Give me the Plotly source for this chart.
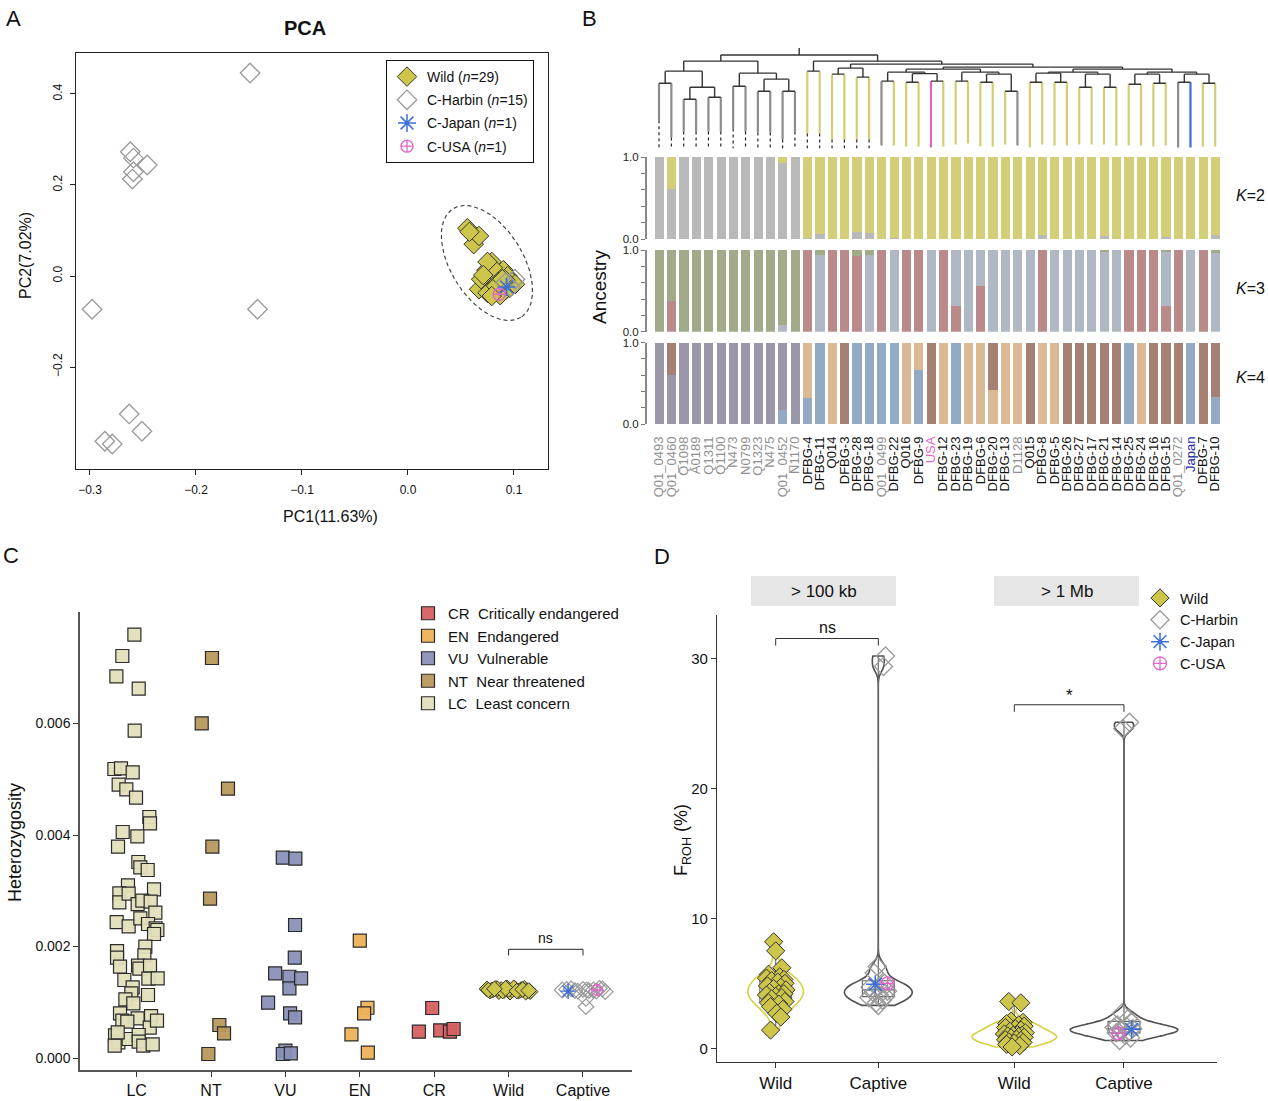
import numpy as np
import plotly.graph_objects as go

W, H = 1268, 1101
FONT = "Liberation Sans, Arial, sans-serif"


def fx(p):
    return p / W


def fy(p):
    return 1 - p / H


# ======================= Panel A : PCA =======================
wild_pc1 = [0.056, 0.062, 0.067, 0.079, 0.074, 0.084, 0.077, 0.090, 0.094, 0.098, 0.072, 0.067, 0.082, 0.088,
            0.075, 0.092, 0.085, 0.080, 0.069, 0.087, 0.096, 0.101, 0.075, 0.083, 0.079, 0.092, 0.071, 0.058, 0.089]
wild_pc2 = [0.105, 0.070, 0.088, 0.031, 0.013, 0.004, -0.007, 0.013, 0.000, -0.013, -0.020, -0.029, -0.033, -0.022,
            -0.037, -0.031, -0.013, 0.018, -0.007, -0.042, -0.026, -0.018, 0.031, -0.022, -0.044, -0.009, 0.002,
            0.097, -0.007]
harbin_pc1 = [-0.149, -0.262, -0.259, -0.246, -0.259, -0.260, -0.298, -0.142, -0.263, -0.251, -0.286, -0.279,
              0.092, 0.097, 0.101]
harbin_pc2 = [0.446, 0.273, 0.259, 0.244, 0.229, 0.213, -0.073, -0.073, -0.303, -0.341, -0.363, -0.369,
              -0.015, -0.024, -0.007]
japan_pc1, japan_pc2 = [0.093], [-0.024]
usa_pc1, usa_pc2 = [0.086], [-0.040]

# dashed ellipse: centre and two conjugate semi-diameters (data units)
ELL_C = (0.0745, 0.0286)
ELL_U = (0.0320, -0.1193)
ELL_V = (-0.0288, -0.0419)

# ======================= Panel B : dendrogram + ADMIXTURE =======================
samples = ["Q01_0493", "Q01_0460", "Q1098", "A0189", "Q1311", "Q1100", "N473", "N0799", "Q1323", "N475",
           "Q01_0452", "N1170", "DFBG-4", "DFBG-11", "Q014", "DFBG-3", "DFBG-28", "DFBG-18", "Q01_0499",
           "DFBG-22", "Q016", "DFBG-9", "USA", "DFBG-12", "DFBG-23", "DFBG-19", "DFBG-6", "DFBG-20", "DFBG-13",
           "D1128", "Q015", "DFBG-8", "DFBG-5", "DFBG-26", "DFBG-27", "DFBG-17", "DFBG-21", "DFBG-14", "DFBG-25",
           "DFBG-24", "DFBG-16", "DFBG-15", "Q01_0272", "Japan", "DFBG-7", "DFBG-10"]
groups = ["H"] * 12 + ["W"] * 6 + ["H", "W", "W", "W", "U", "W", "W", "W", "W", "W", "W", "H"] + \
         ["W"] * 12 + ["H", "J", "W", "W"]

k2_grey = [1, 0.61, 1, 1, 1, 1, 1, 1, 1, 1, 0.93, 1,
           0.01, 0.06, 0, 0, 0.09, 0.07, 0, 0.01, 0, 0, 0, 0, 0, 0, 0, 0, 0, 0, 0,
           0.05, 0, 0, 0, 0, 0.04, 0, 0, 0, 0, 0.02, 0, 0, 0, 0.05]
k2_yellow = [0, 0.39, 0, 0, 0, 0, 0, 0, 0, 0, 0.07, 0,
             0.99, 0.94, 1, 1, 0.91, 0.93, 1, 0.99, 1, 1, 1, 1, 1, 1, 1, 1, 1, 1, 1,
             0.95, 1, 1, 1, 1, 0.96, 1, 1, 1, 1, 0.98, 1, 1, 1, 0.95]

k3_red = [0, 0.375, 0, 0, 0, 0, 0, 0, 0, 0, 0, 0,
          1, 0, 1, 1, 0.93, 0, 1, 0, 1, 1, 0, 1, 0.31, 0, 0.56, 0, 0, 0, 0,
          1, 0, 0, 0, 0, 0, 0, 1, 1, 1, 0.31, 1, 0, 1, 0]
k3_bluegrey = [0, 0, 0, 0, 0, 0, 0, 0, 0, 0, 0.08, 0,
               0, 0.94, 0, 0, 0, 0.94, 0, 1, 0, 0, 1, 0, 0.69, 1, 0.44, 1, 1, 1, 1,
               0, 1, 1, 1, 1, 0.98, 1, 0, 0, 0, 0.67, 0, 1, 0, 0.96]
k3_green = [1, 0.625, 1, 1, 1, 1, 1, 1, 1, 1, 0.92, 1,
            0, 0.06, 0, 0, 0.07, 0.06, 0, 0, 0, 0, 0, 0, 0, 0, 0, 0, 0, 0, 0,
            0, 0, 0, 0, 0, 0.02, 0, 0, 0, 0, 0.02, 0, 0, 0, 0.04]

k4_blue = [0, 0, 0, 0, 0, 0, 0, 0, 0, 0, 0.17, 0,
           0.32, 1, 0, 0, 1, 1, 1, 1, 0, 0.67, 0, 0, 1, 0, 0, 0, 0, 0, 0,
           0, 0, 0, 0, 0, 0, 0, 1, 0, 0, 0, 0, 1, 0, 0.33]
k4_tan = [0, 0, 0, 0, 0, 0, 0, 0, 0, 0, 0, 0,
          0.68, 0, 1, 0, 0, 0, 0, 0, 1, 0.33, 0, 1, 0, 1, 1, 0.42, 1, 1, 0,
          1, 1, 0, 0, 0, 0, 0, 0, 1, 0, 0, 0, 0, 0, 0]
k4_purple = [1, 0.61, 1, 1, 1, 1, 1, 1, 1, 1, 0.83, 1,
             0, 0, 0, 0, 0, 0, 0, 0, 0, 0, 0, 0, 0, 0, 0, 0, 0, 0, 0,
             0, 0, 0, 0, 0, 0, 0, 0, 0, 0, 0, 0, 0, 0, 0]
k4_brown = [0, 0.39, 0, 0, 0, 0, 0, 0, 0, 0, 0, 0,
            0, 0, 0, 1, 0, 0, 0, 0, 0, 0, 1, 0, 0, 0, 0, 0.58, 0, 0, 1,
            0, 0, 1, 1, 1, 1, 1, 0, 0, 1, 1, 1, 0, 1, 0.67]

# tree: [merge height, left, right]; leaves are sample indices
TREE = [0.93,
        [0.87,
         [0.77, [0.65, 0, 1], [0.61, [0.49, 2, 3], [0.51, 4, 5]]],
         [0.75, [0.62, 6, 7], [0.69, [0.57, 8, 9], [0.57, 10, 11]]]],
        [0.87,
         [0.77, 12, 13],
         [0.84,
          [0.80, [0.74, 14, 15], [0.71, 16, 17]],
          [0.81,
           [0.79,
            [0.76, [0.67, 18, 19], [0.745, [0.66, 20, 21], [0.67, 22, 23]]],
            [0.76, [0.67, 24, 25], [0.74, [0.66, 26, 27], [0.57, 28, 29]]]],
           [0.79,
            [0.76, [0.75, [0.66, 30, 31], [0.66, 32, 33]], [0.74, [0.61, 34, 35], [0.61, 36, 37]]],
            [0.76, [0.74, [0.64, 38, 39], [0.65, 40, 41]], [0.74, [0.66, 42, 43], [0.65, 44, 45]]]]]]]]
leaf_end = [0.28, 0.11, 0.17, 0.17, 0.17, 0.17, 0.20, 0.17, 0.16, 0.16, 0.09, 0.17, 0.15, 0.15, 0.09, 0.09,
            0.09, 0.09, 0.03, 0.03, 0.02, 0.02, 0.01, 0.02, 0.04, 0.05, 0.02, 0.02, 0.04, 0.03, 0.01, 0.04,
            0.03, 0.03, 0.04, 0.04, 0.04, 0.03, 0.03, 0.03, 0.02, 0.03, 0.01, 0.01, 0.02, 0.02]

# ======================= Panel C : heterozygosity =======================
HET_UNIT = 1e-3
iucn_cats = ["LC", "NT", "VU", "EN", "CR", "Wild", "Captive"]
lc_het = [7.593, 7.211, 6.846, 6.625, 5.871, 5.184, 5.196, 5.124, 4.903, 4.819, 4.670, 4.323, 4.209, 4.054, 3.976,
          3.791, 3.516, 3.420, 3.372, 3.097, 2.954, 2.792, 2.948, 3.025, 2.762, 2.822, 2.804, 2.607, 2.439, 2.362,
          2.505, 2.404, 2.326, 2.296, 2.224, 1.997, 1.919, 1.800, 1.842, 1.638, 1.656, 1.602, 1.656, 1.423, 1.429,
          1.399, 1.268, 1.160, 1.052, 1.130, 0.981, 0.801, 0.712, 0.670, 0.652, 0.753, 0.544, 0.670, 0.407, 0.281,
          0.221, 0.341, 0.413, 0.293, 0.221, 0.245, 0.460]
lc_jit = [-0.030, -0.192, -0.272, 0.028, -0.026, -0.299, -0.210, -0.053, -0.241, -0.138, -0.008, 0.171, 0.180,
          -0.187, 0.010, -0.250, 0.023, 0.050, 0.149, -0.116, -0.232, -0.232, -0.107, 0.234, 0.014, 0.077, 0.189,
          0.252, -0.268, -0.107, 0.050, 0.153, 0.256, 0.279, 0.234, 0.117, -0.263, -0.263, 0.104, -0.223, 0.019,
          0.037, 0.180, 0.158, 0.283, -0.165, -0.053, -0.071, -0.151, 0.153, -0.044, -0.223, 0.014, -0.192, -0.125,
          0.194, 0.176, 0.274, -0.290, -0.245, -0.295, -0.107, 0.028, 0.028, 0.090, 0.216, -0.254]
nt_het = [7.175, 6.003, 4.831, 3.791, 2.858, 0.592, 0.442, 0.072]
nt_jit = [0.013, -0.125, 0.228, 0.018, -0.013, 0.112, 0.175, -0.036]
vu_het = [3.593, 3.575, 2.386, 1.799, 1.519, 1.458, 1.250, 1.430, 0.992, 0.802, 0.730, 0.131, 0.072, 0.084]
vu_jit = [-0.035, 0.134, 0.130, 0.126, -0.138, 0.054, 0.054, 0.211, -0.233, 0.063, 0.130, 0.0, -0.035, 0.073]
en_het = [2.104, 0.902, 0.802, 0.425, 0.095]
en_jit = [0.0, 0.103, 0.058, -0.112, 0.108]
cr_het = [0.897, 0.472, 0.497, 0.472, 0.520]
cr_jit = [-0.027, -0.206, 0.081, 0.211, 0.261]
wild_het = [1.24, 1.20, 1.22, 1.25, 1.19, 1.23, 1.21, 1.26, 1.18, 1.22, 1.24, 1.20, 1.23, 1.25, 1.21, 1.19, 1.22,
            1.24, 1.20, 1.23, 1.26, 1.21, 1.18, 1.22, 1.25, 1.20, 1.23, 1.21, 1.24]
wild_het_jit = [-0.29, -0.25, -0.21, -0.17, -0.13, -0.10, -0.06, -0.02, 0.02, 0.05, 0.09, 0.13, 0.17, 0.21, 0.25,
                0.29, -0.23, -0.15, -0.08, 0.00, 0.07, 0.15, 0.23, -0.27, -0.04, 0.11, 0.19, 0.27, -0.19]
harbin_het = [1.22, 1.24, 1.20, 1.23, 1.21, 1.22, 1.25, 1.19, 1.23, 1.22, 1.20, 1.24, 1.21, 1.07, 0.92]
harbin_het_jit = [-0.28, -0.16, -0.07, 0.00, 0.08, 0.14, 0.22, 0.30, -0.22, 0.05, 0.18, 0.26, -0.11, 0.04, 0.04]
japan_het, japan_het_jit = [1.20], [-0.20]
usa_het, usa_het_jit = [1.22], [0.19]

# ======================= Panel D : FROH =======================
froh_cats = ["Wild", "Captive"]
wild_100kb = [8.2, 7.5, 6.2, 5.7, 5.5, 5.4, 5.3, 5.2, 5.1, 5.0, 4.8, 4.7, 4.6, 4.5, 4.3, 4.2, 4.2, 4.1, 4.0, 3.9,
              3.8, 3.6, 3.5, 3.4, 3.2, 3.0, 2.7, 2.4, 1.4]
wild_100kb_jit = [-0.02, 0.00, 0.06, -0.07, 0.04, -0.09, 0.08, -0.04, 0.02, 0.09, -0.08, 0.05, -0.02, 0.10, -0.06,
                  0.03, 0.08, -0.09, 0.00, 0.06, -0.04, 0.09, -0.07, 0.03, -0.05, 0.07, 0.01, 0.05, -0.05]
harbin_100kb = [30.2, 29.4, 6.3, 5.8, 5.0, 4.7, 4.5, 4.4, 4.3, 4.1, 4.0, 3.9, 3.7, 3.5, 3.3]
harbin_100kb_jit = [0.07, 0.05, -0.01, -0.04, 0.06, -0.08, 0.03, 0.09, -0.05, 0.01, 0.07, -0.09, 0.04, -0.02, 0.00]
japan_100kb, japan_100kb_jit = [4.93], [-0.03]
usa_100kb, usa_100kb_jit = [5.0], [0.09]
wild_1mb = [3.6, 3.5, 2.1, 2.0, 1.9, 1.8, 1.7, 1.6, 1.5, 1.4, 1.3, 1.2, 1.1, 1.05, 1.0, 1.0, 0.95, 0.9, 0.85, 0.8,
            0.7, 0.65, 0.6, 0.5, 0.45, 0.4, 0.3, 0.2, 0.1]
wild_1mb_jit = [-0.05, 0.06, -0.03, 0.08, -0.07, 0.04, 0.09, -0.08, 0.01, 0.06, -0.04, 0.10, -0.09, 0.03, -0.01,
                0.07, -0.06, 0.04, 0.09, -0.03, 0.02, -0.08, 0.06, -0.05, 0.08, 0.00, -0.07, 0.05, -0.02]
harbin_1mb = [25.1, 24.6, 2.7, 2.3, 2.0, 1.8, 1.7, 1.6, 1.5, 1.4, 1.3, 1.2, 1.0, 0.8, 0.6]
harbin_1mb_jit = [0.05, -0.01, -0.02, 0.04, 0.07, -0.06, 0.02, -0.09, 0.08, -0.03, 0.05, -0.07, 0.01, 0.06, -0.04]
japan_1mb, japan_1mb_jit = [1.46], [0.07]
usa_1mb, usa_1mb_jit = [1.15], [-0.05]

# ======================= styles =======================
C_WILD = "#cdc64a"
C_HARBIN = "#9a9a9a"
C_JAPAN = "#3c6fd8"
C_USA = "#e066cc"
LEAF_COLORS = {"H": "#8c8c8c", "W": "#d3ce74", "U": "#e066c8", "J": "#3a6fd0"}
LABEL_COLORS = {"H": "#8f8f8f", "W": "#111111", "U": "#e066c8", "J": "#1c2aa8"}
IUCN_COLORS = {"CR": "rgba(214,96,98,0.95)", "EN": "rgba(238,178,88,0.95)", "VU": "rgba(138,144,184,0.95)",
               "NT": "rgba(184,152,92,0.95)", "LC": "rgba(226,223,186,0.95)"}
IUCN_NAMES = {"CR": "Critically endangered", "EN": "Endangered", "VU": "Vulnerable",
              "NT": "Near threatened", "LC": "Least concern"}

fig = go.Figure()

# ---------------- Panel A traces ----------------
t = np.linspace(0, 2 * np.pi, 240)
fig.add_trace(go.Scatter(x=ELL_C[0] + ELL_U[0] * np.cos(t) + ELL_V[0] * np.sin(t),
                         y=ELL_C[1] + ELL_U[1] * np.cos(t) + ELL_V[1] * np.sin(t),
                         mode="lines", line=dict(color="#444", width=1.2, dash="4px,3px"),
                         showlegend=False, hoverinfo="skip", xaxis="x", yaxis="y"))
fig.add_trace(go.Scatter(x=wild_pc1, y=wild_pc2, mode="markers", name="Wild (<i>n</i>=29)",
                         marker=dict(symbol="diamond", size=15, color=C_WILD, line=dict(color="#333", width=1)),
                         legend="legend", legendgroup="a1", xaxis="x", yaxis="y"))
fig.add_trace(go.Scatter(x=harbin_pc1, y=harbin_pc2, mode="markers", name="C-Harbin (<i>n</i>=15)",
                         marker=dict(symbol="diamond-open", size=15, color=C_HARBIN, line=dict(width=1.3)),
                         legend="legend", legendgroup="a2", xaxis="x", yaxis="y"))
fig.add_trace(go.Scatter(x=japan_pc1, y=japan_pc2, mode="markers", name="C-Japan (<i>n</i>=1)",
                         marker=dict(symbol="asterisk-open", size=15, color=C_JAPAN, line=dict(width=1.5)),
                         legend="legend", legendgroup="a3", xaxis="x", yaxis="y"))
fig.add_trace(go.Scatter(x=usa_pc1, y=usa_pc2, mode="markers", name="C-USA (<i>n</i>=1)",
                         marker=dict(symbol="circle-cross-open", size=12, color=C_USA, line=dict(width=1.3)),
                         legend="legend", legendgroup="a4", xaxis="x", yaxis="y"))

# ---------------- Panel B : dendrogram ----------------
int_x, int_y = [], []
leaf_segs = {g: ([], []) for g in LEAF_COLORS}
dash_x, dash_y = [], []


def walk(node):
    if isinstance(node, int):
        return float(node), None
    h, left, right = node
    xs = []
    for child in (left, right):
        cx, ch = walk(child)
        if ch is None:
            g = groups[child]
            leaf_segs[g][0].extend([cx, cx, None])
            leaf_segs[g][1].extend([h, leaf_end[child], None])
            if leaf_end[child] > 0.06:
                dash_x.extend([cx, cx, None])
                dash_y.extend([leaf_end[child], 0, None])
        else:
            int_x.extend([cx, cx, None])
            int_y.extend([h, ch, None])
        xs.append(cx)
    int_x.extend([xs[0], xs[1], None])
    int_y.extend([h, h, None])
    return (xs[0] + xs[1]) / 2, h


root_x, root_h = walk(TREE)
int_x.extend([root_x, root_x, None])
int_y.extend([root_h, 1.0, None])

for g, (sx, sy) in leaf_segs.items():
    fig.add_trace(go.Scatter(x=sx, y=sy, mode="lines", line=dict(color=LEAF_COLORS[g], width=2.2),
                             showlegend=False, hoverinfo="skip", xaxis="x2", yaxis="y2"))
fig.add_trace(go.Scatter(x=dash_x, y=dash_y, mode="lines", line=dict(color="#222", width=1.2, dash="3px,3px"),
                         showlegend=False, hoverinfo="skip", xaxis="x2", yaxis="y2"))
fig.add_trace(go.Scatter(x=int_x, y=int_y, mode="lines", line=dict(color="#333", width=1.4),
                         showlegend=False, hoverinfo="skip", xaxis="x2", yaxis="y2"))

# ---------------- Panel B : ancestry bars ----------------
idx = list(range(len(samples)))
bar_sets = [
    ("x3", "y3", [(k2_grey, "#b9b9b9"), (k2_yellow, "#d3ce78")]),
    ("x4", "y4", [(k3_red, "#b98a89"), (k3_bluegrey, "#b0b9c3"), (k3_green, "#a1ab89")]),
    ("x5", "y5", [(k4_blue, "#94aac4"), (k4_tan, "#dbb994"), (k4_purple, "#9b97a9"), (k4_brown, "#a68173")]),
]
for xa, ya, comps in bar_sets:
    for vals, col in comps:
        fig.add_trace(go.Bar(x=idx, y=vals, width=0.74, marker=dict(color=col, line=dict(width=0)),
                             showlegend=False, hoverinfo="skip", xaxis=xa, yaxis=ya))

# ---------------- Panel C ----------------
cat_pos = {c: i for i, c in enumerate(iucn_cats)}
iucn_data = {"LC": (lc_het, lc_jit), "NT": (nt_het, nt_jit), "VU": (vu_het, vu_jit),
             "EN": (en_het, en_jit), "CR": (cr_het, cr_jit)}
rank = {"CR": 1, "EN": 2, "VU": 3, "NT": 4, "LC": 5}
for code in ["LC", "NT", "VU", "EN", "CR"]:
    vals, jit = iucn_data[code]
    fig.add_trace(go.Scatter(
        x=[cat_pos[code] + j for j in jit], y=[v * HET_UNIT for v in vals], mode="markers",
        name=f"{code}&nbsp;&nbsp;{IUCN_NAMES[code]}",
        marker=dict(symbol="square", size=13, color=IUCN_COLORS[code], line=dict(color="#2a2a2a", width=1.2)),
        legend="legend2", legendrank=rank[code], legendgroup="c" + code, xaxis="x6", yaxis="y6"))

fig.add_trace(go.Scatter(x=[cat_pos["Wild"] + j for j in wild_het_jit], y=[v * HET_UNIT for v in wild_het],
                         mode="markers", showlegend=False,
                         marker=dict(symbol="diamond", size=12, color=C_WILD, line=dict(color="#333", width=1)),
                         xaxis="x6", yaxis="y6"))
fig.add_trace(go.Scatter(x=[cat_pos["Captive"] + j for j in harbin_het_jit], y=[v * HET_UNIT for v in harbin_het],
                         mode="markers", showlegend=False,
                         marker=dict(symbol="diamond-open", size=12, color=C_HARBIN, line=dict(width=1.2)),
                         xaxis="x6", yaxis="y6"))
fig.add_trace(go.Scatter(x=[cat_pos["Captive"] + j for j in japan_het_jit], y=[v * HET_UNIT for v in japan_het],
                         mode="markers", showlegend=False,
                         marker=dict(symbol="asterisk-open", size=13, color=C_JAPAN, line=dict(width=1.4)),
                         xaxis="x6", yaxis="y6"))
fig.add_trace(go.Scatter(x=[cat_pos["Captive"] + j for j in usa_het_jit], y=[v * HET_UNIT for v in usa_het],
                         mode="markers", showlegend=False,
                         marker=dict(symbol="circle-cross-open", size=11, color=C_USA, line=dict(width=1.3)),
                         xaxis="x6", yaxis="y6"))
# significance bracket
cap_max = max(harbin_het + wild_het) * HET_UNIT
br_top, br_low = cap_max + 0.69e-3, cap_max + 0.58e-3
fig.add_trace(go.Scatter(x=[cat_pos["Wild"], cat_pos["Wild"], cat_pos["Captive"], cat_pos["Captive"]],
                         y=[br_low, br_top, br_top, br_low], mode="lines", line=dict(color="#222", width=1),
                         showlegend=False, hoverinfo="skip", xaxis="x6", yaxis="y6"))

# ---------------- Panel D ----------------
facets = [
    ("x7", "y7", wild_100kb, wild_100kb_jit, harbin_100kb, harbin_100kb_jit, japan_100kb, japan_100kb_jit,
     usa_100kb, usa_100kb_jit, 0.54, 0.66, 0.31, 0.6, 0.45, True),
    ("x8", "y8", wild_1mb, wild_1mb_jit, harbin_1mb, harbin_1mb_jit, japan_1mb, japan_1mb_jit,
     usa_1mb, usa_1mb_jit, 0.77, 0.98, 0.29, 0.36, 0.32, False),
]
for (xa, ya, wv, wj, hv, hj, jv, jj, uv, uj, w_wid, c_wid, bw, bw_w, bw_c, leg) in facets:
    cap_all = hv + jv + uv
    fig.add_trace(go.Violin(x=[0] * len(wv), y=wv, width=w_wid, spanmode="hard", bandwidth=bw_w,
                            line=dict(color="#d6cf45", width=1.6), fillcolor="rgba(0,0,0,0)", points=False,
                            showlegend=False, hoverinfo="skip", xaxis=xa, yaxis=ya))
    fig.add_trace(go.Violin(x=[1] * len(cap_all), y=cap_all, width=c_wid, spanmode="hard", bandwidth=bw_c,
                            line=dict(color="#505050", width=1.6), fillcolor="rgba(0,0,0,0)", points=False,
                            showlegend=False, hoverinfo="skip", xaxis=xa, yaxis=ya))
    fig.add_trace(go.Box(x=[0] * len(wv), y=wv, width=bw, boxpoints=False, whiskerwidth=0,
                         line=dict(color="#777", width=1.2), fillcolor="rgba(255,255,255,0.25)",
                         showlegend=False, hoverinfo="skip", xaxis=xa, yaxis=ya))
    fig.add_trace(go.Box(x=[1] * len(cap_all), y=cap_all, width=bw, boxpoints=False, whiskerwidth=0,
                         line=dict(color="#666", width=1.2), fillcolor="rgba(255,255,255,0.25)",
                         showlegend=False, hoverinfo="skip", xaxis=xa, yaxis=ya))
    fig.add_trace(go.Scatter(x=[0 + j for j in wj], y=wv, mode="markers", name="Wild", showlegend=leg,
                             marker=dict(symbol="diamond", size=14, color=C_WILD, line=dict(color="#333", width=1)),
                             legend="legend3", legendgroup="d1", xaxis=xa, yaxis=ya))
    fig.add_trace(go.Scatter(x=[1 + j for j in hj], y=hv, mode="markers", name="C-Harbin", showlegend=leg,
                             marker=dict(symbol="diamond-open", size=14, color=C_HARBIN, line=dict(width=1.3)),
                             legend="legend3", legendgroup="d2", xaxis=xa, yaxis=ya))
    fig.add_trace(go.Scatter(x=[1 + j for j in jj], y=jv, mode="markers", name="C-Japan", showlegend=leg,
                             marker=dict(symbol="asterisk-open", size=15, color=C_JAPAN, line=dict(width=1.5)),
                             legend="legend3", legendgroup="d3", xaxis=xa, yaxis=ya))
    fig.add_trace(go.Scatter(x=[1 + j for j in uj], y=uv, mode="markers", name="C-USA", showlegend=leg,
                             marker=dict(symbol="circle-cross-open", size=13, color=C_USA, line=dict(width=1.3)),
                             legend="legend3", legendgroup="d4", xaxis=xa, yaxis=ya))
    top = max(cap_all + wv)
    fig.add_trace(go.Scatter(x=[0, 0, 1, 1], y=[top + 0.8, top + 1.35, top + 1.35, top + 0.8], mode="lines",
                             line=dict(color="#333", width=1), showlegend=False, hoverinfo="skip",
                             xaxis=xa, yaxis=ya))

# ======================= layout =======================
ann = []


def txt(x, y, s, size, angle=0, **kw):
    d = dict(x=fx(x), y=fy(y), xref="paper", yref="paper", text=s, showarrow=False, textangle=angle,
             font=dict(family=FONT, size=size, color=kw.pop("color", "#111")), xanchor="center",
             yanchor="middle")
    d.update(kw)
    ann.append(d)


txt(13, 18, "A", 22)
txt(589, 18, "B", 22)
txt(11, 555, "C", 22)
txt(662, 556, "D", 22)
txt(305, 28, "<b>PCA</b>", 20)
txt(330, 517, "PC1(11.63%)", 16)
txt(25, 256, "PC2(7.02%)", 16, angle=-90)
txt(600, 287, "Ancestry", 19, angle=-90)
txt(1250, 196, "<i>K</i>=2", 16)
txt(1250, 288, "<i>K</i>=3", 16)
txt(1250, 378, "<i>K</i>=4", 16)
txt(15, 843, "Heterozygosity", 18, angle=-90)
txt(682, 840, "F<sub>ROH</sub> (%)", 18, angle=-90)
txt(823.5, 591, "&gt; 100 kb", 17)
txt(1066.5, 591, "&gt; 1 Mb", 17)

ann.append(dict(x=(cat_pos["Wild"] + cat_pos["Captive"]) / 2, y=br_top, xref="x6", yref="y6", text="ns",
                showarrow=False, yanchor="bottom", yshift=1, font=dict(family=FONT, size=14, color="#111")))
ann.append(dict(x=0.5, y=max(harbin_100kb + japan_100kb + usa_100kb) + 1.35, xref="x7", yref="y7", text="ns",
                showarrow=False, yanchor="bottom", yshift=1, font=dict(family=FONT, size=16, color="#111")))
ann.append(dict(x=0.5, y=max(harbin_1mb + japan_1mb + usa_1mb) + 1.35, xref="x8", yref="y8", text="*",
                showarrow=False, yanchor="bottom", yshift=-2, font=dict(family=FONT, size=17, color="#111")))

shapes = [
    dict(type="rect", xref="paper", yref="paper", x0=fx(751), x1=fx(896), y0=fy(606), y1=fy(576),
         fillcolor="#e6e6e6", line=dict(width=0), layer="below"),
    dict(type="rect", xref="paper", yref="paper", x0=fx(994), x1=fx(1139), y0=fy(606), y1=fy(576),
         fillcolor="#e6e6e6", line=dict(width=0), layer="below"),
]

hidden = dict(visible=False, showgrid=False, zeroline=False, automargin=False)
BX = [fx(646.7), fx(1222)]
BXR = [-0.995, 45.55]
bar_y = dict(range=[0, 1], tickvals=[0, 0.2, 0.4, 0.6, 0.8, 1.0], ticktext=["0.0", "", "", "", "", "1.0"],
             ticks="outside", ticklen=4, tickcolor="#777", showline=True, linecolor="#888", linewidth=1.5,
             showgrid=False, zeroline=False, automargin=False,
             tickfont=dict(family=FONT, size=11.5, color="#222"))
tick_html = [f'<span style="color:{LABEL_COLORS[g]}">{s}</span>' for s, g in zip(samples, groups)]

axis_font = dict(family=FONT, color="#111")
common = dict(showgrid=False, zeroline=False, automargin=False)

fig.update_layout(
    template="none",
    width=W, height=H, margin=dict(l=0, r=0, t=0, b=0, pad=0, autoexpand=False),
    paper_bgcolor="white", plot_bgcolor="rgba(0,0,0,0)",
    font=dict(family=FONT, color="#111"),
    barmode="stack", violinmode="overlay", boxmode="overlay", bargap=0,
    annotations=ann, shapes=shapes,
    # ---- A
    xaxis=dict(domain=[fx(76), fx(548)], range=[-0.3132, 0.1321], tickvals=[-0.3, -0.2, -0.1, 0.0, 0.1],
               tickformat=".1f", showline=True, mirror=True, linecolor="#222", linewidth=1, ticks="outside",
               ticklen=5, tickcolor="#222", anchor="y", ticklabelstandoff=5,
               tickfont=dict(size=12, **axis_font), **common),
    yaxis=dict(domain=[fy(469), fy(53)], range=[-0.424, 0.490], tickvals=[-0.2, 0.0, 0.2, 0.4], tickformat=".1f",
               tickangle=-90, showline=True, mirror=True, linecolor="#222", linewidth=1, ticks="outside",
               ticklen=5, tickcolor="#222", anchor="x", ticklabelstandoff=3,
               tickfont=dict(size=12, **axis_font), **common),
    # ---- B dendrogram
    xaxis2=dict(domain=BX, range=BXR, anchor="y2", **hidden),
    yaxis2=dict(domain=[fy(148.5), fy(45)], range=[0, 1.03], anchor="x2", **hidden),
    # ---- B bars
    xaxis3=dict(domain=BX, range=BXR, anchor="y3", **hidden),
    yaxis3=dict(domain=[fy(239), fy(157)], anchor="x3", **bar_y),
    xaxis4=dict(domain=BX, range=BXR, anchor="y4", **hidden),
    yaxis4=dict(domain=[fy(331.7), fy(250)], anchor="x4", **bar_y),
    xaxis5=dict(domain=BX, range=BXR, anchor="y5", tickvals=idx, ticktext=tick_html, tickangle=-90,
                ticks="", showline=False, ticklabelstandoff=9,
                tickfont=dict(family=FONT, size=13), **common),
    yaxis5=dict(domain=[fy(424), fy(342.7)], anchor="x5", **bar_y),
    # ---- C
    xaxis6=dict(domain=[fx(80), fx(632)], range=[-0.761, 6.659], tickvals=list(range(len(iucn_cats))),
                ticktext=iucn_cats, showline=True, linecolor="#555", linewidth=1.5, ticks="outside", ticklen=5,
                tickcolor="#333", anchor="y6", tickfont=dict(size=16, **axis_font), **common),
    yaxis6=dict(domain=[fy(1070), fy(612)], range=[-0.000215, 0.0080], tickvals=[0, 0.002, 0.004, 0.006],
                tickformat=".3f", showline=True, linecolor="#555", linewidth=1.5, ticks="outside", ticklen=5,
                tickcolor="#333", anchor="x6", tickfont=dict(size=14, **axis_font), **common),
    # ---- D
    xaxis7=dict(domain=[fx(717), fx(960)], range=[-0.572, 1.796], tickvals=[0, 1], ticktext=froh_cats,
                showline=True, linecolor="#333", linewidth=1.2, ticks="outside", ticklen=5, tickcolor="#333",
                anchor="y7", tickfont=dict(size=17, **axis_font), **common),
    yaxis7=dict(domain=[fy(1062.3), fy(615)], range=[-1.08, 33.36], tickvals=[0, 10, 20, 30],
                showline=True, linecolor="#333", linewidth=1.2, ticks="outside", ticklen=5, tickcolor="#333",
                anchor="x7", tickfont=dict(size=15, **axis_font), **common),
    xaxis8=dict(domain=[fx(960), fx(1217)], range=[-0.495, 1.848], tickvals=[0, 1], ticktext=froh_cats,
                showline=True, linecolor="#333", linewidth=1.2, ticks="outside", ticklen=5, tickcolor="#333",
                anchor="y8", tickfont=dict(size=17, **axis_font), **common),
    yaxis8=dict(domain=[fy(1062.3), fy(615)], range=[-1.08, 33.36], anchor="x8", showline=False,
                showticklabels=False, ticks="", **common),
    # ---- legends
    legend=dict(x=fx(386), y=fy(60), xanchor="left", yanchor="top", bordercolor="#111", borderwidth=1,
                bgcolor="white", font=dict(family=FONT, size=14, color="#111"), tracegroupgap=2,
                itemclick=False),
    legend2=dict(x=fx(408), y=fy(597), xanchor="left", yanchor="top", bgcolor="rgba(0,0,0,0)",
                 font=dict(family=FONT, size=15, color="#111"), tracegroupgap=0, itemclick=False),
    legend3=dict(x=fx(1140), y=fy(582), xanchor="left", yanchor="top", bgcolor="rgba(0,0,0,0)",
                 font=dict(family=FONT, size=14.5, color="#111"), tracegroupgap=0, itemclick=False),
    showlegend=True,
)

fig.write_html("out.html", config={"displayModeBar": False},
               post_script="document.body.style.margin='0px';document.body.style.padding='0px';")
